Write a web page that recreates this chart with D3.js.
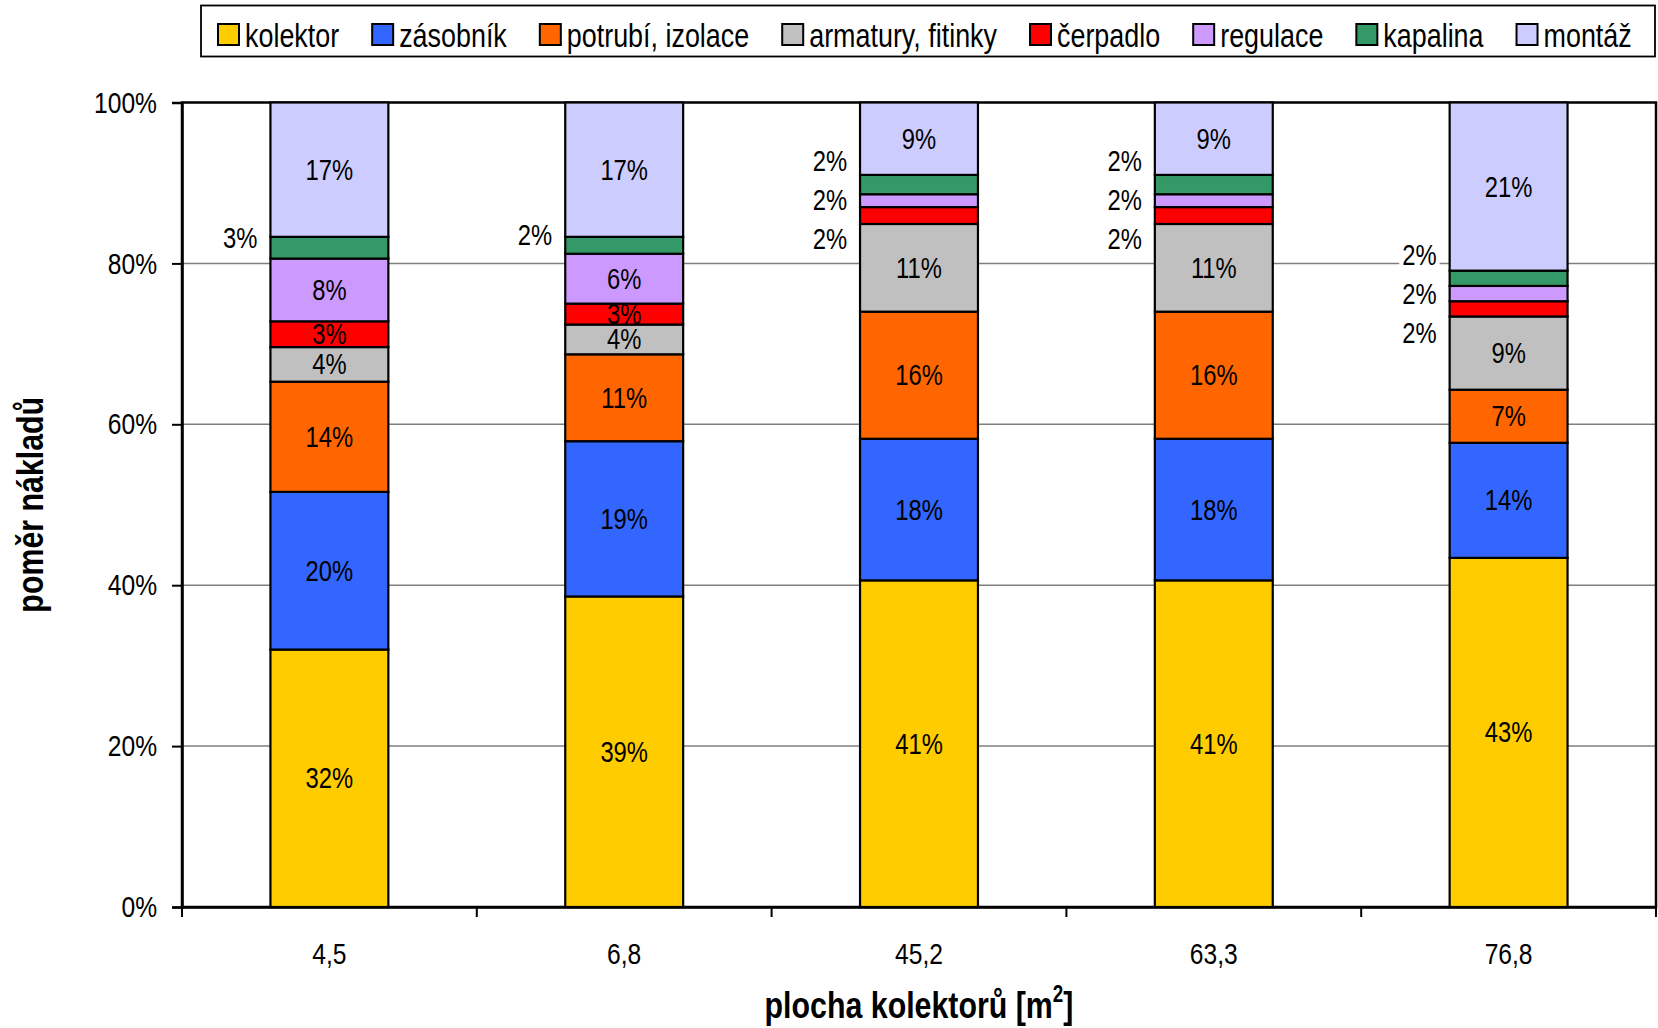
<!DOCTYPE html>
<html>
<head>
<meta charset="utf-8">
<script src="https://cdn.jsdelivr.net/npm/d3@7"></script>
<style>
  html, body { margin: 0; padding: 0; background: #fff; }
  svg { display: block; }
  text { font-family: 'Liberation Sans Narrow', 'Arial Narrow', 'Liberation Sans', Arial, sans-serif; fill: #000; }
</style>
</head>
<body>
<svg id="chart" width="1658" height="1028"></svg>
<script>
// Collector area categories (m²)
const categories = ["4,5", "6,8", "45,2", "63,3", "76,8"];

// Cost components, in stacking order (bottom → top)
const seriesNames = ["kolektor", "zásobník", "potrubí, izolace", "armatury, fitinky",
                     "čerpadlo", "regulace", "kapalina", "montáž"];
const seriesColors = ["#FFCC00", "#3366FF", "#FF6600", "#C0C0C0",
                      "#FF0000", "#CC99FF", "#339966", "#CCCCFF"];

// Share of total cost (%) per category
const kolektor = [32.0, 38.6, 40.6, 40.6, 43.4];
const zasobnik = [19.6, 19.3, 17.6, 17.6, 14.3];
const potrubi  = [13.7, 10.8, 15.8, 15.8, 6.6];
const armatury = [4.3, 3.7, 10.9, 10.9, 9.1];
const cerpadlo = [3.2, 2.6, 2.1, 2.1, 1.9];
const regulace = [7.8, 6.2, 1.6, 1.6, 1.9];
const kapalina = [2.7, 2.1, 2.4, 2.4, 1.9];
const montaz   = [16.7, 16.7, 9.0, 9.0, 20.9];

const seriesValues = [kolektor, zasobnik, potrubi, armatury, cerpadlo, regulace, kapalina, montaz];

const yTickValues = [0, 0.2, 0.4, 0.6, 0.8, 1.0];

const xTitle = "plocha kolektorů [m";
const xTitleSup = "2";
const yTitle = "poměr nákladů";

// condensed look: squeeze glyphs horizontally
const SQUEEZE = 0.82;
function squeeze(sel) {
  sel.each(function () {
    const w = this.getComputedTextLength();
    d3.select(this).attr("textLength", w * SQUEEZE).attr("lengthAdjust", "spacingAndGlyphs");
  });
  return sel;
}

// ---- table for d3.stack ----
const rows = categories.map((c, i) => {
  const r = { cat: c };
  seriesNames.forEach((s, k) => { r[s] = seriesValues[k][i]; });
  return r;
});

const svg = d3.select("#chart");
const margin = { left: 182, right: 2, top: 102.5, bottom: 121 };
const W = 1658, H = 1028;
const plotL = margin.left, plotR = W - margin.right, plotT = margin.top, plotB = H - margin.bottom;

const x = d3.scaleBand().domain(categories).range([plotL, plotR]).paddingInner(0.6).paddingOuter(0.3);
const y = d3.scaleLinear().domain([0, 1]).range([plotB, plotT]);
const color = d3.scaleOrdinal().domain(seriesNames).range(seriesColors);

const stacked = d3.stack().keys(seriesNames).offset(d3.stackOffsetExpand)(rows);
const pct = d3.format(".0%");

// gridlines
svg.append("g").selectAll("line").data(yTickValues.filter(v => v > 0 && v < 1)).join("line")
  .attr("x1", plotL).attr("x2", plotR)
  .attr("y1", d => y(d)).attr("y2", d => y(d))
  .attr("stroke", "#7f7f7f").attr("stroke-width", 1.5);

// plot frame
svg.append("rect")
  .attr("x", plotL).attr("y", plotT).attr("width", plotR - plotL).attr("height", plotB - plotT)
  .attr("fill", "none").attr("stroke", "#000").attr("stroke-width", 2.5);

// stacked bars
const layers = svg.append("g").selectAll("g").data(stacked).join("g")
  .attr("fill", d => color(d.key));
layers.selectAll("rect").data(d => d).join("rect")
  .attr("x", d => x(d.data.cat))
  .attr("width", x.bandwidth())
  .attr("y", d => y(d[1]))
  .attr("height", d => y(d[0]) - y(d[1]))
  .attr("stroke", "#000").attr("stroke-width", 2.2);

// y axis
const yAxis = svg.append("g").attr("transform", `translate(${plotL},0)`)
  .call(d3.axisLeft(y).tickValues(yTickValues).tickFormat(d3.format(".0%")).tickSize(10).tickPadding(15));
yAxis.select(".domain").attr("stroke", "#000").attr("stroke-width", 2.5);
yAxis.selectAll(".tick line").attr("stroke", "#000").attr("stroke-width", 2);
yAxis.selectAll(".tick text").attr("font-size", 30).attr("font-family", null).attr("fill", "#000").call(squeeze);

// x axis: labels centred under bars, ticks on category boundaries
const xAxis = svg.append("g").attr("transform", `translate(0,${plotB})`)
  .call(d3.axisBottom(x).tickSize(0).tickPadding(36));
xAxis.select(".domain").attr("stroke", "#000").attr("stroke-width", 2.5);
xAxis.selectAll(".tick text").attr("font-size", 30).attr("font-family", null).attr("fill", "#000").call(squeeze);
const bounds = d3.range(categories.length + 1).map(i => plotL + i * x.step());
svg.append("g").selectAll("line").data(bounds).join("line")
  .attr("x1", d => d).attr("x2", d => d)
  .attr("y1", plotB).attr("y2", plotB + 10)
  .attr("stroke", "#000").attr("stroke-width", 2);

// value labels: inside the segment, or beside the bar for thin segments
const labelG = svg.append("g");
const outside = (key, v) => key === "kapalina" || v < 0.025;
categories.forEach((cat, ci) => {
  const segs = stacked.map(layer => ({ key: layer.key, d: layer[ci] }));
  const inside = [], out = [];
  segs.forEach(s => {
    const v = s.d[1] - s.d[0];
    if (outside(s.key, v)) out.push(s); else inside.push(s);
  });
  inside.forEach(s => {
    labelG.append("text")
      .attr("x", x(cat) + x.bandwidth() / 2)
      .attr("y", (y(s.d[0]) + y(s.d[1])) / 2)
      .attr("text-anchor", "middle").attr("dominant-baseline", "central")
      .attr("font-size", 29)
      .text(pct(s.d[1] - s.d[0]))
      .call(squeeze);
  });
  if (out.length) {
    const centers = out.map(s => (y(s.d[0]) + y(s.d[1])) / 2);
    const mid = d3.mean(centers) - (out.length === 1 ? 10 : 0);
    const gap = 39;
    const ordered = out.slice().reverse(); // top-most first
    ordered.forEach((s, k) => {
      const yy = mid + (k - (ordered.length - 1) / 2) * gap;
      const t = labelG.append("text")
        .attr("x", x(cat) - 13)
        .attr("y", yy)
        .attr("text-anchor", "end").attr("dominant-baseline", "central")
        .attr("font-size", 29)
        .text(pct(s.d[1] - s.d[0]))
        .call(squeeze);
      const bb = t.node().getBBox();
      labelG.insert("rect", () => t.node())
        .attr("x", bb.x - 3).attr("y", bb.y + 2).attr("width", bb.width + 6).attr("height", bb.height - 4)
        .attr("fill", "#fff");
    });
  }
});

// axis titles
svg.append("g")
  .attr("transform", `translate(30,${(plotT + plotB) / 2}) rotate(-90) scale(${SQUEEZE},1)`)
  .append("text")
  .attr("text-anchor", "middle").attr("dominant-baseline", "central")
  .attr("font-size", 37).attr("font-weight", "bold")
  .text(yTitle);

const xt = svg.append("g")
  .attr("transform", `translate(${(plotL + plotR) / 2},1018) scale(${SQUEEZE},1)`)
  .append("text")
  .attr("text-anchor", "middle")
  .attr("font-size", 37).attr("font-weight", "bold");
xt.append("tspan").text(xTitle);
xt.append("tspan").attr("font-size", 23).attr("dy", -16).text(xTitleSup);
xt.append("tspan").attr("dy", 16).text("]");

// legend
const legend = svg.append("g");
legend.append("rect")
  .attr("x", 201).attr("y", 5.5).attr("width", 1454).attr("height", 51)
  .attr("fill", "#fff").attr("stroke", "#000").attr("stroke-width", 1.8);
let lx = 218;
seriesNames.forEach((name, i) => {
  legend.append("rect")
    .attr("x", lx).attr("y", 24).attr("width", 21).attr("height", 21)
    .attr("fill", seriesColors[i]).attr("stroke", "#000").attr("stroke-width", 2);
  const t = legend.append("text")
    .attr("x", lx + 27).attr("y", 35)
    .attr("dominant-baseline", "central")
    .attr("font-size", 32.8)
    .text(name);
  const w = t.node().getComputedTextLength();
  t.attr("textLength", w * SQUEEZE).attr("lengthAdjust", "spacingAndGlyphs");
  lx += 27 + w * SQUEEZE + 33;
});
</script>
</body>
</html>
